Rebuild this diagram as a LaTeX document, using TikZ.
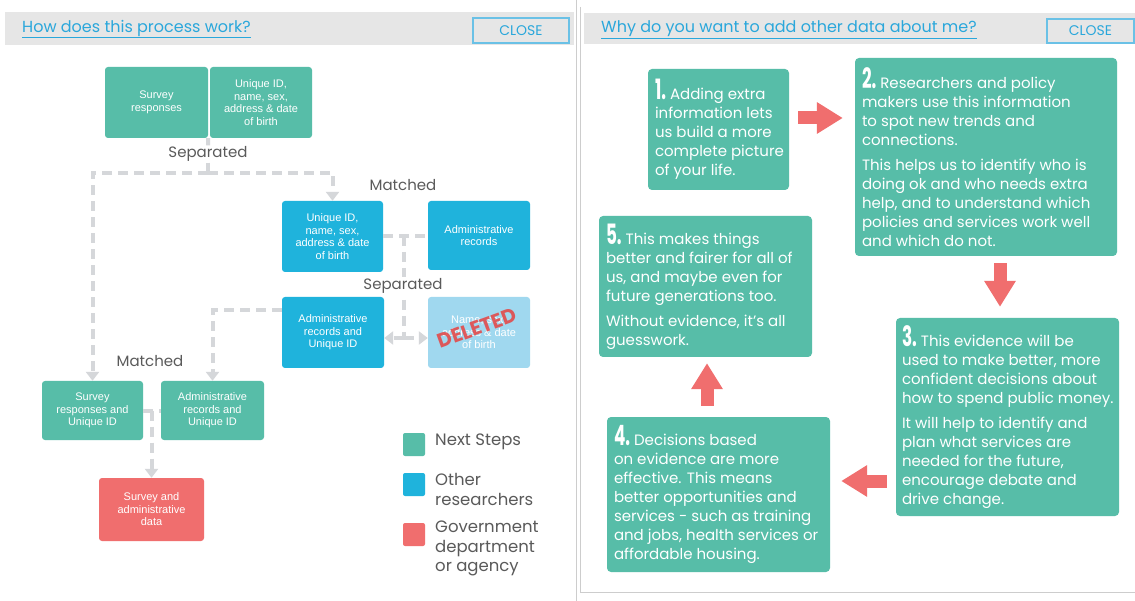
\documentclass[tikz,border=0pt]{standalone}
\usepackage{fontspec}
\setmainfont{Poppins}
\newfontfamily\boxfont{Liberation Sans}
\usetikzlibrary{arrows.meta}
\definecolor{nextgreen}{RGB}{87,189,168}
\definecolor{otherblue}{RGB}{31,179,220}
\definecolor{paleblue}{RGB}{160,216,239}
\definecolor{govred}{RGB}{240,110,110}
\definecolor{stampred}{RGB}{226,75,75}
\definecolor{flowgrey}{RGB}{213,215,218}
\definecolor{headgrey}{RGB}{230,230,230}
\definecolor{rulegrey}{RGB}{205,205,205}
\definecolor{linkblue}{RGB}{42,167,219}
\definecolor{labelgrey}{RGB}{90,90,90}
\newcommand{\stepno}[1]{\scalebox{0.6}[1]{\fontsize{28}{19}\selectfont\bfseries #1.}}

\begin{document}
\begin{tikzpicture}[>=stealth,x=1pt,y=-1pt,
	box/.style={rounded corners=3pt,minimum width=102pt,minimum height=71pt,inner sep=2pt,align=center,text=white,font=\boxfont\fontsize{11}{12.5}\selectfont},
	nextbox/.style={box,fill=nextgreen},
	otherbox/.style={box,fill=otherblue},
	govbox/.style={box,fill=govred},
	flowline/.style={draw=flowgrey,line width=4pt,dash pattern=on 10pt off 6pt},
	flow/.style={flowline,-{Triangle[length=9pt,width=13pt]}},
	lbl/.style={fill=white,inner sep=1pt,text=labelgrey,font=\fontsize{15}{18}\selectfont},
	key/.style={rounded corners=2pt,minimum width=22pt,minimum height=23pt,inner sep=0pt},
	keytext/.style={anchor=west,inner sep=0pt,align=left,text=labelgrey,font=\fontsize{16.5}{19.5}\selectfont},
	head/.style={anchor=west,inner sep=0pt,text=linkblue,font=\fontsize{16}{18}\selectfont},
	closebtn/.style={draw=linkblue!70,line width=1.2pt,inner sep=0pt,text=linkblue,font=\fontsize{14}{16}\selectfont},
	stepbox/.style={fill=nextgreen,rounded corners=4pt,inner sep=0pt},
	steptext/.style={anchor=west,inner sep=0pt,align=left,text=white,font=\fontsize{15}{19}\selectfont},
	fatarrow/.style={draw=govred,line width=13pt,-{Triangle[length=26pt,width=30pt]}}]
	\fill[white] (0,0) rectangle (1135,601);
	\useasboundingbox (0,0) rectangle (1135,601);
	% panel frames
	\fill[headgrey] (5,12) rectangle (574,45);
	\fill[headgrey] (584,13) rectangle (1135,44);
	\draw[rulegrey,line width=1pt] (576,0) -- (576,601);
	\draw[rulegrey,line width=1pt] (580.5,7) -- (580.5,592) -- (1135,592);
	\node[head] (title1) at (22,29) {\underline{How does this process work?}};
	\node[closebtn,minimum width=96pt,minimum height=25pt] (close1) at (521,30.5) {CLOSE};
	\node[head] (title2) at (601,30) {\underline{Why do you want to add other data about me?}};
	\node[closebtn,minimum width=87pt,minimum height=24pt] (close2) at (1090.5,31) {CLOSE};
	% left: process
	\node[nextbox,minimum width=103pt] (sr) at (156.5,102.5) {Survey\\responses};
	\node[nextbox] (uid) at (261,102.5) {Unique ID,\\name, sex,\\address \& date\\of birth};
	\node[otherbox,minimum width=101pt] (u2) at (332.5,236.5) {Unique ID,\\name, sex,\\address \& date\\of birth};
	\node[otherbox,minimum height=69pt] (ar) at (479,235.5) {Administrative\\records};
	\node[otherbox] (ar2) at (333,332.5) {Administrative\\records and\\Unique ID};
	\node[box,fill=paleblue] (nm) at (479,332.5) {Name, sex,\\address \& date\\of birth};
	\node[nextbox,minimum width=101pt,minimum height=59pt] (sa) at (92.5,410.5) {Survey\\responses and\\Unique ID};
	\node[nextbox,minimum width=103pt,minimum height=59pt] (ab) at (212.5,410.5) {Administrative\\records and\\Unique ID};
	\node[govbox,minimum width=105pt,minimum height=63pt] (rd) at (151.5,509.5) {Survey and\\administrative\\data};
	\node[lbl] (sep1) at (208,154) {Separated};
	\node[lbl] (m1) at (403,185) {Matched};
	\node[lbl] (m2) at (150,361) {Matched};
	\coordinate (j1) at (208,173);
	\coordinate (j2) at (404,236);
	\coordinate (j3) at (404,338);
	\draw[flowline] (sr.south east) -- (sep1.north);
	\draw[flowline] (sep1.south) -- (j1);
	\draw[flow] (j1) -| (sa.north);
	\draw[flow] (j1) -| (u2.north);
	\draw[flowline] (u2.east) -- (u2.east -| ar.west);
	\draw[flowline] (j2) -- (j3);
	\draw[flow] (j3) -- (j3 -| ar2.east);
	\draw[flow] (j3) -- (j3 -| nm.west);
	\draw[flow] ([yshift=22pt]ar2.west) -| (ab.north);
	\draw[flowline] (sa.east) -- (ab.west);
	\draw[flow] (sa.east -| rd.north) -- (rd.north);
	\node[lbl] (sep2) at (403,286) {Separated};
	\node[rotate=20,inner sep=0pt,text=stampred,opacity=0.9,font=\fontsize{20}{20}\selectfont\bfseries] (del) at (477,328) {DELETED};
	% key
	\node[key,fill=nextgreen] (k1) at (414,444.5) {};
	\node[key,fill=otherblue] (k2) at (414,484.5) {};
	\node[key,fill=govred] (k3) at (414,534.5) {};
	\node[keytext] (kt1) at (435,442) {Next Steps};
	\node[keytext] (kt2) at (435,489.5) {Other\\researchers};
	\node[keytext] (kt3) at (435,548.5) {Government\\department\\or agency};
	% right: why
	\node[stepbox,minimum width=141pt,minimum height=121pt] (b1) at (718.5,129.5) {};
	\node[stepbox,minimum width=262pt,minimum height=198pt] (b2) at (986,157) {};
	\node[stepbox,minimum width=223pt,minimum height=198pt] (b3) at (1007.5,417) {};
	\node[stepbox,minimum width=223pt,minimum height=155pt] (b4) at (718.5,494.5) {};
	\node[stepbox,minimum width=213pt,minimum height=141pt] (b5) at (705.5,286.5) {};
	\node[steptext] (s1) at ([xshift=7pt]b1.west) {\stepno{1} Adding extra\\information lets\\us build a more\\complete picture\\of your life.};
	\node[steptext] (s2) at ([xshift=7pt]b2.west) {\stepno{2} Researchers and policy\\makers use this information\\to spot new trends and\\connections.\\[6pt]This helps us to identify who is\\doing ok and who needs extra\\help, and to understand which\\policies and services work well\\and which do not.};
	\node[steptext] (s3) at ([xshift=6pt]b3.west) {\stepno{3} This evidence will be\\used to make better, more\\confident decisions about\\how to spend public money.\\[6pt]It will help to identify and\\plan what services are\\needed for the future,\\encourage debate and\\drive change.};
	\node[steptext] (s4) at ([xshift=7pt]b4.west) {\stepno{4} Decisions based\\on evidence are more\\effective. This means\\better opportunities and\\services - such as training\\and jobs, health services or\\affordable housing.};
	\node[steptext] (s5) at ([xshift=7pt]b5.west) {\stepno{5} This makes things\\better and fairer for all of\\us, and maybe even for\\future generations too.\\[6pt]Without evidence, it's all\\guesswork.};
	\draw[fatarrow,shorten <=9pt,shorten >=12pt] (b1.east |- 0,118) -- (b2.west |- 0,118);
	\draw[fatarrow,shorten <=7pt,shorten >=11pt] (b2.south -| 1000,0) -- (b3.north -| 1000,0);
	\draw[fatarrow,shorten <=9pt,shorten >=11pt] (b3.west |- 0,481) -- (b4.east |- 0,481);
	\draw[fatarrow,shorten <=11pt,shorten >=6pt] (b4.north -| 707,0) -- (b5.south -| 707,0);
\end{tikzpicture}
\end{document}
